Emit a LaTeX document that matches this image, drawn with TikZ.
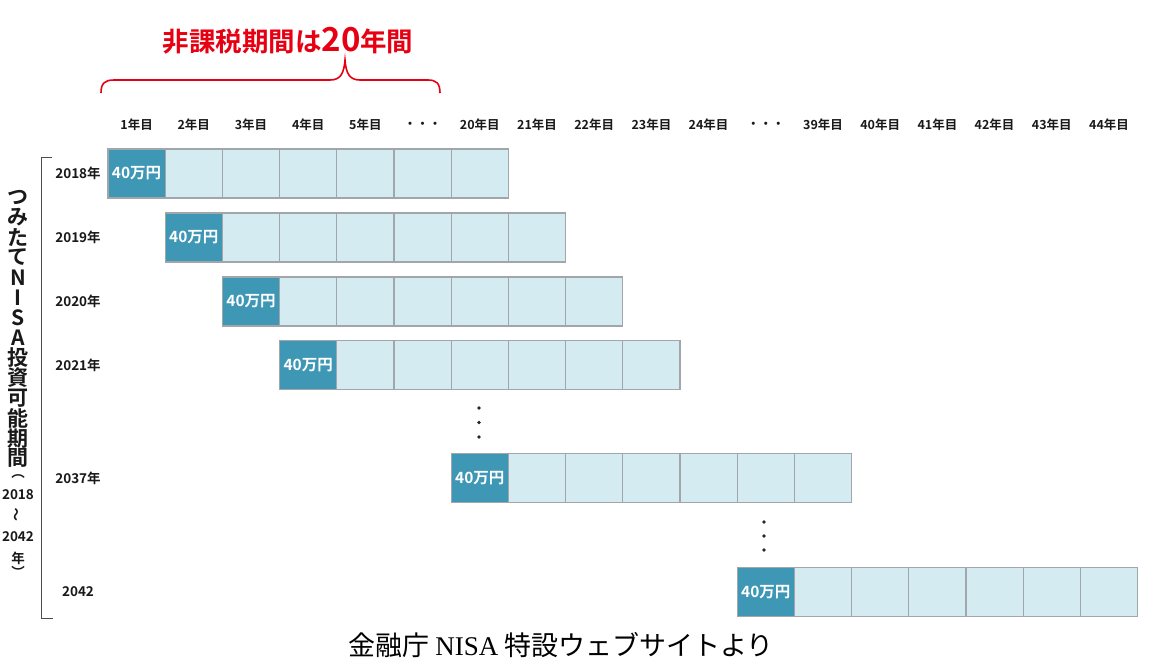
\documentclass[tikz,border=0pt]{standalone}
\usepackage{fontspec}
\setmainfont{Noto Sans CJK JP}[BoldFont={Noto Sans CJK JP Bold}]
\newfontfamily\capfont{Noto Sans CJK JP}
\newfontfamily\capserif{Liberation Serif}
\usetikzlibrary{positioning}

\definecolor{darkcell}{RGB}{61,151,181}
\definecolor{lightcell}{RGB}{213,235,242}
\definecolor{cellline}{RGB}{160,166,170}
\definecolor{taxred}{RGB}{230,0,18}
\definecolor{labeltext}{RGB}{25,25,25}

\begin{document}
\begin{tikzpicture}[
  x=1pt, y=-1pt,
  cell/.style={draw=cellline, line width=1.2pt, minimum width=57.2pt, minimum height=49pt, inner sep=0pt, outer sep=0pt},
  paid/.style={cell, fill=darkcell, text=white, font=\bfseries\fontsize{15.5}{16}\selectfont},
  held/.style={cell, fill=lightcell},
  colhead/.style={font=\bfseries\fontsize{12.5}{13}\selectfont, text=labeltext},
  rowhead/.style={font=\bfseries\fontsize{13.5}{14}\selectfont, text=labeltext},
  vtitle/.style={font=\bfseries\fontsize{21}{21}\selectfont, text=labeltext, inner sep=0pt},
  vsmall/.style={font=\bfseries\fontsize{13.5}{14}\selectfont, text=labeltext, inner sep=0pt},
  vdot/.style={circle, fill=black!85, minimum size=3.8pt, inner sep=0pt}
]
  \useasboundingbox (0,0) rectangle (1155,670);

  % Title and brace
  \node[text=taxred, font=\bfseries\fontsize{26.5}{27}\selectfont] (title) at (288,41)
    {非課税期間は{\fontsize{33}{34}\selectfont 20}年間};
  \draw[taxred, line width=1.6pt] (101,93) .. controls (101,83) and (105,80) .. (114,80)
    -- (330,80) .. controls (340,80) and (344,74) .. (345,60)
    .. controls (346,74) and (350,80) .. (360,80)
    -- (428,80) .. controls (436,80) and (440,83) .. (440,93);

  % Column headers
  \foreach \k/\txt in {1/1年目, 2/2年目, 3/3年目, 4/4年目, 5/5年目, 6/・・・,
      7/20年目, 8/21年目, 9/22年目, 10/23年目, 11/24年目, 12/・・・,
      13/39年目, 14/40年目, 15/41年目, 16/42年目, 17/43年目, 18/44年目}
    \node[colhead] (h\k) at ({108+57.2*(\k-0.5)},125) {\txt};

  % Rows: first year paid, then six held years
  \foreach \r/\y/\c/\yr in {1/173.5/1/2018年, 2/237.5/2/2019年, 3/301.5/3/2020年,
      4/365/4/2021年, 5/478/7/2037年, 6/592/12/2042} {
    \node[rowhead] (y\r) at (78,\y) {\yr};
    \node[paid] (c\r-1) at ({108+57.2*(\c-0.5)},\y) {40万円};
    \foreach \k [count=\p from 1] in {2,...,7}
      \node[held, right=0pt of c\r-\p] (c\r-\k) {};
  }

  % Skipped rows
  \foreach \i/\y in {1/408, 2/422.5, 3/437}
    \node[vdot] (va\i) at (479,\y) {};
  \foreach \i/\y in {1/522, 2/536, 3/550}
    \node[vdot] (vb\i) at (764,\y) {};

  % Left bracket
  \draw[black!70, line width=1pt] (52,157) -- (41,157) -- (41,618) -- (53,618);

  % Vertical label
  \foreach \ch [count=\i] in {つ,み,た,て,N,I,S,A,投,資,可,能,期,間}
    \node[vtitle] (vt\i) at (18,{197+20.1*(\i-1)}) {\ch};
  \node[vsmall] (vp1) at (18,477) {︵};
  \node[vsmall] (vp2) at (18,495) {2018};
  \node[vsmall, rotate=90] (vp3) at (18,515) {〜};
  \node[vsmall] (vp4) at (18,537) {2042};
  \node[vsmall] (vp5) at (18,558) {年};
  \node[vsmall] (vp6) at (18,572) {︶};

  % Source
  \node[font=\capfont\fontsize{27}{30}\selectfont] (source) at (561,645)
    {金融庁 {\capserif NISA} 特設ウェブサイトより};
\end{tikzpicture}
\end{document}
